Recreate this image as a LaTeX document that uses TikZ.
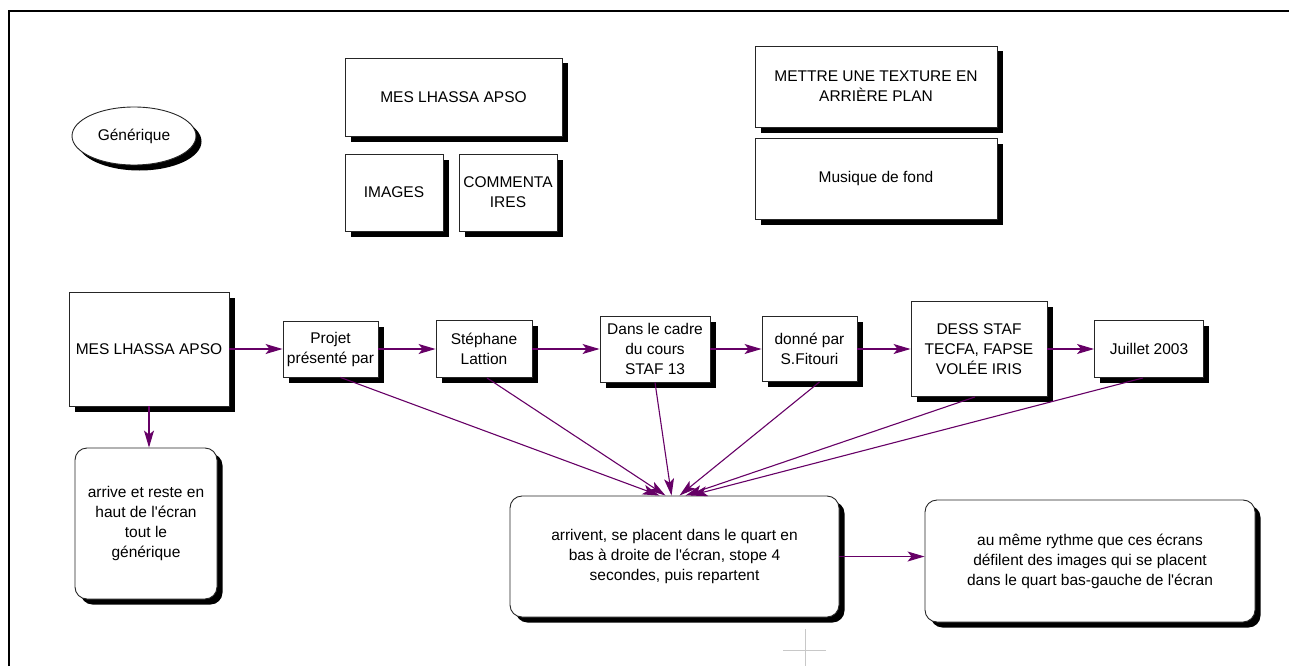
\documentclass[tikz,border=0pt]{standalone}
\usepackage{fontspec}
\setmainfont{Liberation Sans}[Ligatures=TeXOff]
\usetikzlibrary{arrows.meta,shadows,shapes.geometric,calc}
\definecolor{arrowpurple}{RGB}{102,0,102}
\definecolor{cursorgray}{RGB}{200,200,200}
\tikzset{
  box/.style={draw=black!85, line width=0.9pt, fill=white, inner sep=0pt, align=center,
    font=\fontsize{15.5}{20}\selectfont,
    drop shadow={shadow xshift=5.5pt, shadow yshift=-5.5pt, fill=black, opacity=1}},
  rbox/.style={box, rounded corners=12pt},
  ebox/.style={box, ellipse, drop shadow={shadow xshift=4.5pt, shadow yshift=-4.5pt, fill=black, opacity=1}},
  conn/.style={draw=arrowpurple, line width=1.1pt, -{Stealth[length=17pt,width=10pt,inset=4pt,fill=arrowpurple]}},
  frameline/.style={line width=2pt, draw=black},
  cursor/.style={line width=1pt, draw=cursorgray},
}
\begin{document}
\begin{tikzpicture}[x=1pt,y=-1pt]
\useasboundingbox (0,0) rectangle (1289,666);
\draw[frameline] (9,666) -- (9,11) -- (1289,11);

% top area
\node[ebox, minimum width=124pt, minimum height=58pt] (gen) at (134,136) {Générique};
\node[box, minimum width=217pt, minimum height=78pt] (titre) at (453.5,97) {MES LHASSA APSO};
\node[box, minimum width=98pt, minimum height=77pt] (img) at (394,192.5) {IMAGES};
\node[box, minimum width=98pt, minimum height=77pt] (comm) at (508,192.5) {COMMENTA\\IRES};
\node[box, minimum width=242pt, minimum height=81pt] (text) at (876,86.5) {METTRE UNE TEXTURE EN\\ARRIÈRE PLAN};
\node[box, minimum width=242pt, minimum height=81pt] (mus) at (876,178.5) {Musique de fond};

% row
\node[box, minimum width=160pt, minimum height=114pt] (big) at (149,349) {MES LHASSA APSO};
\node[box, minimum width=95pt, minimum height=56pt] (proj) at (330.5,349) {Projet\\présenté par};
\node[box, minimum width=96pt, minimum height=57pt] (steph) at (484,349) {Stéphane\\Lattion};
\node[box, minimum width=110pt, minimum height=66pt] (cadre) at (655,349) {Dans le cadre\\du cours\\STAF 13};
\node[box, minimum width=95pt, minimum height=65pt] (donne) at (809.5,349) {donné par\\S.Fitouri};
\node[box, minimum width=136pt, minimum height=95pt] (dess) at (979,349) {DESS STAF\\TECFA, FAPSE\\VOLÉE IRIS};
\node[box, minimum width=109pt, minimum height=57pt] (juil) at (1149,349) {Juillet 2003};

% bottom
\node[rbox, minimum width=142pt, minimum height=151pt] (reste) at (146,523.5) {arrive et reste en\\haut de l'écran\\tout le\\générique};
\node[rbox, minimum width=329pt, minimum height=121pt] (arr) at (674.5,556.5) {arrivent, se placent dans le quart en\\bas à droite de l'écran, stope 4\\secondes, puis repartent};
\node[rbox, minimum width=330pt, minimum height=122pt] (meme) at (1090,561) {au même rythme que ces écrans\\défilent des images qui se placent\\dans le quart bas-gauche de l'écran};

% horizontal chain
\draw[conn] (big.east) -- (proj.west);
\draw[conn] (proj.east) -- (steph.west);
\draw[conn] (steph.east) -- (cadre.west);
\draw[conn] (cadre.east) -- (donne.west);
\draw[conn] (donne.east) -- (dess.west);
\draw[conn] (dess.east) -- (juil.west);
\draw[conn] (big.south) -- (big.south |- reste.north);
\draw[conn] (arr.east) -- (arr.east -| meme.west);

% fan-in
\coordinate (t1) at ($(arr.north)+(-15,0)$);
\coordinate (t2) at ($(arr.north)+(-9,0)$);
\coordinate (t3) at ($(arr.north)+(-3,0)$);
\coordinate (t4) at ($(arr.north)+(5,0)$);
\coordinate (t5) at ($(arr.north)+(11,0)$);
\coordinate (t6) at ($(arr.north)+(16,0)$);
\draw[conn] ($(proj.south)+(10,0)$) -- (t1);
\draw[conn] ($(steph.south)+(3,0)$) -- (t2);
\draw[conn] (cadre.south) -- (t3);
\draw[conn] ($(donne.south)+(10,0)$) -- (t4);
\draw[conn] ($(dess.south)+(-4,0)$) -- (t5);
\draw[conn] ($(juil.south)+(-6,0)$) -- (t6);

% cursor cross
\draw[cursor] (805,629) -- (805,666);
\draw[cursor] (783,650) -- (826,650);
\end{tikzpicture}
\end{document}
